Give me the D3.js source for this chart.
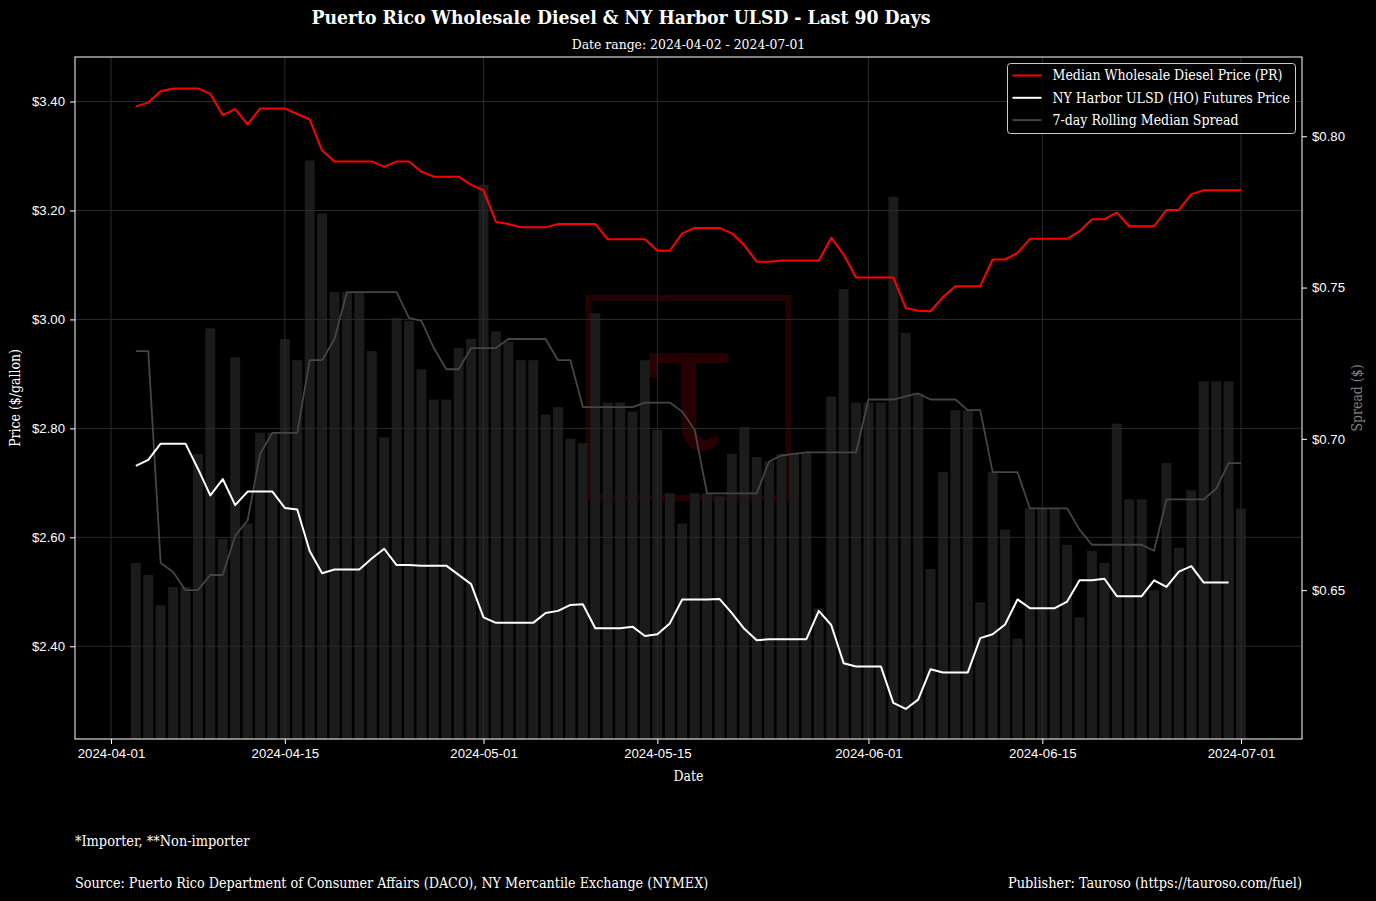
<!DOCTYPE html>
<html>
<head>
<meta charset="utf-8">
<script src="https://cdn.jsdelivr.net/npm/d3@7"></script>
<style>
  html, body { margin: 0; padding: 0; background: #000; }
  svg { display: block; font-family: "DejaVu Serif Condensed", "DejaVu Serif", serif; font-stretch: condensed; }
</style>
</head>
<body>
<svg id="chart" width="1376" height="901"></svg>
<script>
// days 2024-04-03 .. 2024-07-01
const dates = d3.utcDay.range(new Date(Date.UTC(2024, 3, 3)), new Date(Date.UTC(2024, 6, 2)));

// Median wholesale diesel price (PR), $/gal
const prPrice = [
  3.391, 3.398, 3.419, 3.424, 3.424, 3.424, 3.414, 3.375, 3.386, 3.358,
  3.387, 3.387, 3.387, 3.377, 3.367, 3.310, 3.290, 3.290, 3.290, 3.290,
  3.280, 3.290, 3.290, 3.271, 3.262, 3.262, 3.262, 3.247, 3.237, 3.179,
  3.175, 3.169, 3.169, 3.169, 3.175, 3.175, 3.175, 3.175, 3.147, 3.147,
  3.147, 3.147, 3.126, 3.126, 3.158, 3.168, 3.168, 3.168, 3.158, 3.136,
  3.106, 3.106, 3.108, 3.108, 3.108, 3.108, 3.150, 3.119, 3.077, 3.077,
  3.077, 3.077, 3.021, 3.016, 3.015, 3.041, 3.061, 3.061, 3.061, 3.110,
  3.110, 3.122, 3.148, 3.148, 3.148, 3.148, 3.162, 3.184, 3.184, 3.196,
  3.171, 3.171, 3.171, 3.201, 3.201, 3.230, 3.237, 3.237, 3.237, 3.237
];

// NY Harbor ULSD (HO) futures, $/gal (no value for the last day)
const hoPrice = [
  2.731, 2.742, 2.772, 2.772, 2.772, 2.726, 2.677, 2.707, 2.659, 2.684,
  2.684, 2.684, 2.654, 2.651, 2.575, 2.534, 2.541, 2.541, 2.541, 2.561,
  2.579, 2.549, 2.549, 2.548, 2.548, 2.548, 2.531, 2.514, 2.453, 2.443,
  2.443, 2.443, 2.443, 2.461, 2.465, 2.476, 2.477, 2.433, 2.433, 2.433,
  2.436, 2.419, 2.422, 2.442, 2.486, 2.486, 2.486, 2.487, 2.461, 2.432,
  2.411, 2.413, 2.413, 2.413, 2.413, 2.465, 2.439, 2.369, 2.363, 2.363,
  2.363, 2.296, 2.285, 2.302, 2.358, 2.352, 2.352, 2.352, 2.415, 2.422,
  2.440, 2.486, 2.470, 2.470, 2.470, 2.482, 2.521, 2.521, 2.524, 2.492,
  2.492, 2.492, 2.521, 2.509, 2.537, 2.547, 2.517, 2.517, 2.517, null
];

// daily spread, $
const spread = [
  0.659, 0.655, 0.645, 0.651, 0.651, 0.695, 0.7365, 0.667, 0.727, 0.672,
  0.702, 0.702, 0.733, 0.726, 0.792, 0.7745, 0.7485, 0.7485, 0.7485, 0.729,
  0.7005, 0.740, 0.739, 0.723, 0.713, 0.713, 0.730, 0.733, 0.784, 0.7355,
  0.732, 0.726, 0.726, 0.708, 0.7105, 0.700, 0.6986, 0.7415, 0.712, 0.712,
  0.709, 0.726, 0.703, 0.682, 0.672, 0.682, 0.682, 0.681, 0.695, 0.704,
  0.694, 0.6926, 0.695, 0.695, 0.6955, 0.644, 0.714, 0.7495, 0.712, 0.712,
  0.712, 0.780, 0.735, 0.715, 0.657, 0.689, 0.7095, 0.7095, 0.646, 0.689,
  0.670, 0.634, 0.677, 0.677, 0.677, 0.665, 0.641, 0.663, 0.659, 0.705,
  0.680, 0.680, 0.650, 0.692, 0.664, 0.683, 0.719, 0.719, 0.719, 0.677
];

// 7-day rolling median spread, $
const rollSpread = [
  0.729, 0.729, 0.659, 0.656, 0.650, 0.650, 0.655, 0.655, 0.668, 0.673,
  0.695, 0.702, 0.702, 0.702, 0.726, 0.726, 0.733, 0.7485, 0.7485, 0.7485,
  0.7485, 0.7485, 0.740, 0.739, 0.730, 0.723, 0.723, 0.730, 0.730, 0.730,
  0.733, 0.733, 0.733, 0.733, 0.726, 0.726, 0.7105, 0.7105, 0.7105, 0.7105,
  0.7105, 0.712, 0.712, 0.712, 0.709, 0.703, 0.682, 0.682, 0.682, 0.682,
  0.682, 0.6925, 0.6945, 0.695, 0.6955, 0.6955, 0.6955, 0.6955, 0.6955, 0.713,
  0.713, 0.713, 0.714, 0.715, 0.713, 0.713, 0.713, 0.7095, 0.7095, 0.689,
  0.689, 0.689, 0.677, 0.677, 0.677, 0.677, 0.670, 0.665, 0.665, 0.665,
  0.665, 0.665, 0.663, 0.680, 0.680, 0.680, 0.680, 0.6835, 0.692, 0.692
];

const xTicks = ["2024-04-01", "2024-04-15", "2024-05-01", "2024-05-15", "2024-06-01", "2024-06-15", "2024-07-01"];
const priceTicks = [2.40, 2.60, 2.80, 3.00, 3.20, 3.40];
const spreadTicks = [0.65, 0.70, 0.75, 0.80];
const legendLabels = ["Median Wholesale Diesel Price (PR)", "NY Harbor ULSD (HO) Futures Price", "7-day Rolling Median Spread"];

var svg = d3.select("#chart"),
    margin = { top: 57, left: 75, bottom: 162, right: 74 },
    W = +svg.attr("width"), H = +svg.attr("height"),
    plotL = margin.left, plotR = W - margin.right,
    plotT = margin.top, plotB = H - margin.bottom;

const parse = d3.utcParse("%Y-%m-%d");
const fmt = d3.utcFormat("%Y-%m-%d");

var x = d3.scaleUtc()
    .domain([parse("2024-04-01"), parse("2024-07-01")])
    .range([111, 1241]);

var y = d3.scaleLinear()
    .domain([2.2298, 3.4817])
    .range([plotB, plotT]);

var y2 = d3.scaleLinear()
    .domain([0.6008, 0.8262])
    .range([plotB, plotT]);

const dayW = x(parse("2024-04-02")) - x(parse("2024-04-01"));

svg.append("rect").attr("width", W).attr("height", H).attr("fill", "#000");

// watermark
var wm = svg.append("g");
wm.append("rect")
    .attr("x", (plotL + plotR) / 2 - 100)
    .attr("y", (plotT + plotB) / 2 - 100)
    .attr("width", 200).attr("height", 200)
    .attr("fill", "none")
    .attr("stroke", "#230202")
    .attr("stroke-width", 6);
wm.append("text")
    .attr("x", (plotL + plotR) / 2)
    .attr("y", (plotT + plotB) / 2 + 52)
    .attr("text-anchor", "middle")
    .attr("font-family", "DejaVu Serif")
    .attr("font-size", 185)
    .attr("fill", "#270101")
    .text("τ");

// spread bars
svg.append("g")
    .selectAll("rect")
    .data(spread)
    .enter().append("rect")
    .attr("x", (d, i) => x(dates[i]) - dayW * 0.4)
    .attr("width", dayW * 0.8)
    .attr("y", d => y2(d))
    .attr("height", d => plotB - y2(d))
    .attr("fill", "#1b1b1b");

// grid
var grid = svg.append("g").attr("stroke", "#2a2a2a").attr("stroke-width", 1);
grid.selectAll("line.h")
    .data(priceTicks)
    .enter().append("line")
    .attr("x1", plotL).attr("x2", plotR)
    .attr("y1", d => y(d)).attr("y2", d => y(d));
grid.selectAll("line.v")
    .data(xTicks)
    .enter().append("line")
    .attr("y1", plotT).attr("y2", plotB)
    .attr("x1", d => x(parse(d))).attr("x2", d => x(parse(d)));

// lines
var lineSpread = d3.line()
    .x((d, i) => x(dates[i]))
    .y(d => y2(d));

var linePrice = d3.line()
    .defined(d => d != null)
    .x((d, i) => x(dates[i]))
    .y(d => y(d));

svg.append("path")
    .datum(rollSpread)
    .attr("d", lineSpread)
    .attr("fill", "none")
    .attr("stroke", "#454545")
    .attr("stroke-width", 1.8)
    .attr("stroke-linejoin", "round");

svg.append("path")
    .datum(prPrice)
    .attr("d", linePrice)
    .attr("fill", "none")
    .attr("stroke", "#ff0000")
    .attr("stroke-width", 2)
    .attr("stroke-linejoin", "round");

svg.append("path")
    .datum(hoPrice)
    .attr("d", linePrice)
    .attr("fill", "none")
    .attr("stroke", "#ffffff")
    .attr("stroke-width", 2)
    .attr("stroke-linejoin", "round");

// frame
svg.append("rect")
    .attr("x", plotL).attr("y", plotT)
    .attr("width", plotR - plotL).attr("height", plotB - plotT)
    .attr("fill", "none")
    .attr("stroke", "#ffffff")
    .attr("stroke-width", 1);

// axes
var xAxis = svg.append("g")
    .attr("transform", `translate(0,${plotB})`)
    .call(d3.axisBottom(x).tickValues(xTicks.map(parse)).tickFormat(fmt).tickSize(5).tickPadding(5));

var yAxis = svg.append("g")
    .attr("transform", `translate(${plotL},0)`)
    .call(d3.axisLeft(y).tickValues(priceTicks).tickFormat(d => "$" + d.toFixed(2)).tickSize(5).tickPadding(5));

var yAxis2 = svg.append("g")
    .attr("transform", `translate(${plotR},0)`)
    .call(d3.axisRight(y2).tickValues(spreadTicks).tickFormat(d => "$" + d.toFixed(2)).tickSize(5).tickPadding(5));

svg.selectAll(".domain").remove();
svg.selectAll(".tick line").attr("stroke", "#ffffff");
svg.selectAll(".tick text")
    .attr("fill", "#ffffff")
    .attr("font-family", null)
    .attr("font-size", 13.2);

// axis labels
svg.append("text")
    .attr("x", (plotL + plotR) / 2)
    .attr("y", 781)
    .attr("text-anchor", "middle")
    .attr("font-size", 13.9)
    .attr("fill", "#ffffff")
    .text("Date");

svg.append("text")
    .attr("transform", `translate(20,${(plotT + plotB) / 2}) rotate(-90)`)
    .attr("text-anchor", "middle")
    .attr("font-size", 13.9)
    .attr("fill", "#ffffff")
    .text("Price ($/gallon)");

svg.append("text")
    .attr("transform", `translate(1362,${(plotT + plotB) / 2}) rotate(-90)`)
    .attr("text-anchor", "middle")
    .attr("font-size", 13.9)
    .attr("fill", "#808080")
    .text("Spread ($)");

// title
svg.append("text")
    .attr("x", 621)
    .attr("y", 24)
    .attr("text-anchor", "middle")
    .attr("font-size", 19.2)
    .attr("font-weight", "bold")
    .attr("fill", "#ffffff")
    .text("Puerto Rico Wholesale Diesel & NY Harbor ULSD - Last 90 Days");

svg.append("text")
    .attr("x", (plotL + plotR) / 2)
    .attr("y", 49)
    .attr("text-anchor", "middle")
    .attr("font-size", 13.8)
    .attr("fill", "#ffffff")
    .text("Date range: 2024-04-02 - 2024-07-01");

// legend
var legend = svg.append("g").attr("transform", "translate(1007.5,63.5)");
legend.append("rect")
    .attr("width", 288).attr("height", 70)
    .attr("rx", 3)
    .attr("fill", "#000")
    .attr("fill-opacity", 0.8)
    .attr("stroke", "#cccccc")
    .attr("stroke-width", 1);

const legendColors = ["#ff0000", "#ffffff", "#454545"];
var item = legend.selectAll("g.item")
    .data(legendLabels)
    .enter().append("g")
    .attr("class", "item")
    .attr("transform", (d, i) => `translate(0,${12 + i * 22.3})`);
item.append("line")
    .attr("x1", 5).attr("x2", 34)
    .attr("stroke", (d, i) => legendColors[i])
    .attr("stroke-width", 2);
item.append("text")
    .attr("x", 45)
    .attr("dy", "0.35em")
    .attr("font-size", 14.0)
    .attr("fill", "#ffffff")
    .text(d => d);

// footer
svg.append("text")
    .attr("x", plotL).attr("y", 846)
    .attr("font-size", 14.4)
    .attr("fill", "#ffffff")
    .text("*Importer, **Non-importer");

svg.append("text")
    .attr("x", plotL).attr("y", 888)
    .attr("font-size", 14.2)
    .attr("fill", "#ffffff")
    .text("Source: Puerto Rico Department of Consumer Affairs (DACO), NY Mercantile Exchange (NYMEX)");

svg.append("text")
    .attr("x", plotR).attr("y", 888)
    .attr("text-anchor", "end")
    .attr("font-size", 14.4)
    .attr("fill", "#ffffff")
    .text("Publisher: Tauroso (https://tauroso.com/fuel)");
</script>
</body>
</html>
